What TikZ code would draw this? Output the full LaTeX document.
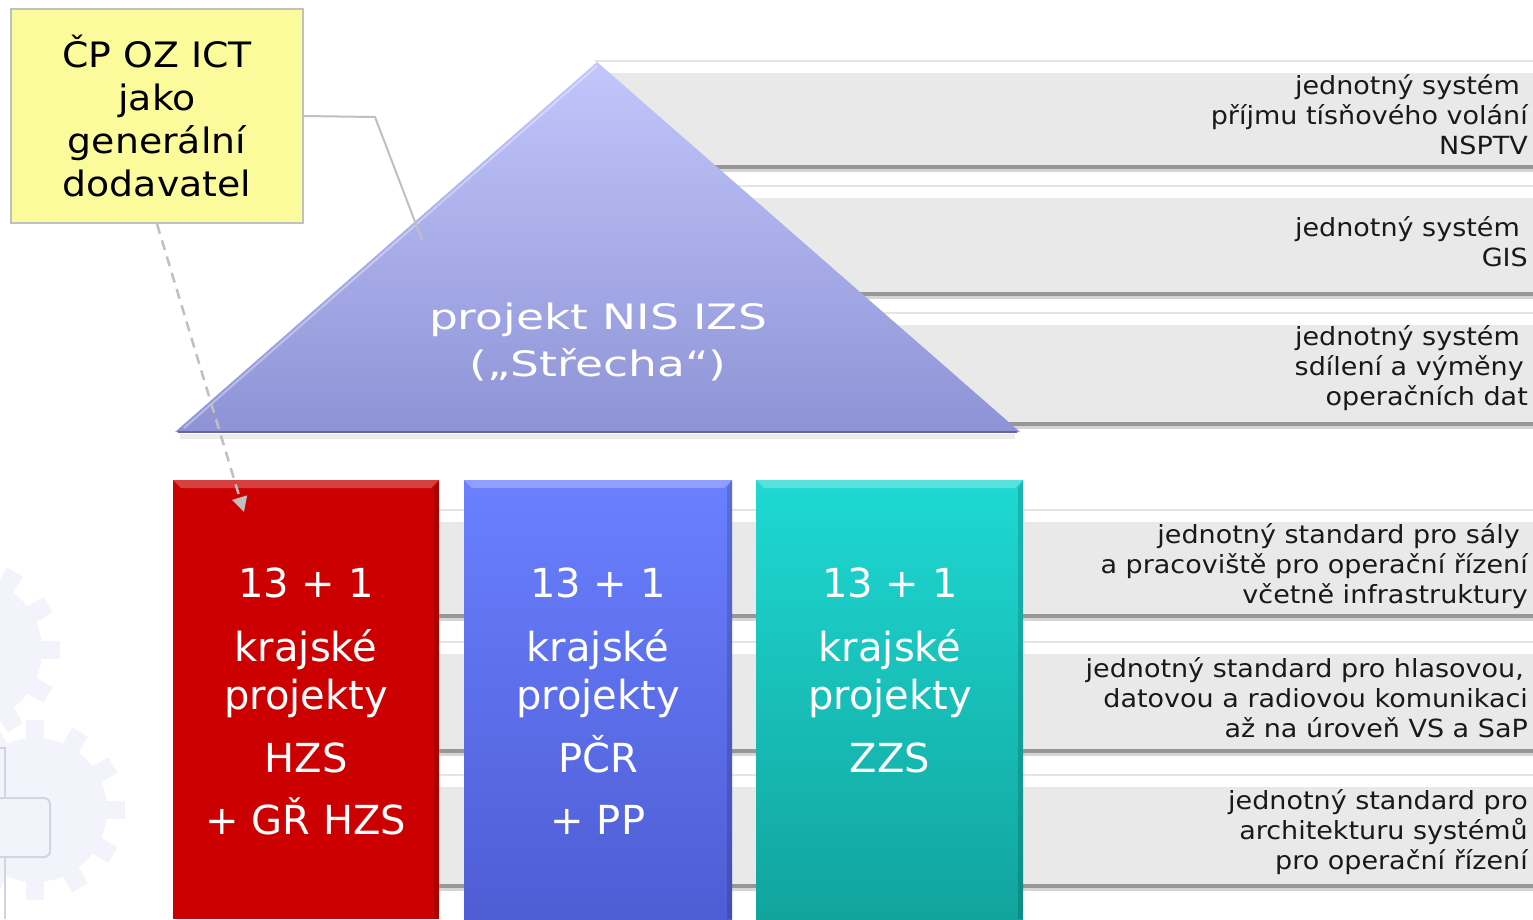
\documentclass[tikz,border=0pt]{standalone}
\usepackage{fontspec}
\setmainfont{DejaVu Sans}
\newfontfamily\widefont{DejaVu Sans}[FakeStretch=1.08]
\newfontfamily\rooffont{DejaVu Sans}[FakeStretch=1.30]
\usetikzlibrary{arrows.meta}

\definecolor{bandgray}{HTML}{E9E9E9}
\definecolor{bandline}{HTML}{E4E4E4}
\definecolor{bandshadow}{HTML}{979797}
\definecolor{roofTop}{HTML}{C2C6FB}
\definecolor{roofBot}{HTML}{8E93D6}
\definecolor{hzsred}{HTML}{CC0000}
\definecolor{pcrTop}{HTML}{6A80FF}
\definecolor{pcrBot}{HTML}{4E5DD4}
\definecolor{zzsTop}{HTML}{1FD9D3}
\definecolor{zzsBot}{HTML}{11A49D}
\definecolor{noteyellow}{HTML}{FBFB9C}
\definecolor{notegray}{HTML}{C0C0C0}
\definecolor{logofill}{HTML}{F3F4FB}
\definecolor{logoline}{HTML}{D2D5DE}

\begin{document}
\begin{tikzpicture}[x=1pt,y=-1pt,
    bandtext/.style={anchor=east,align=right,inner sep=0pt,text=black!90,
      font=\widefont\fontsize{25}{30}\selectfont},
    coltext/.style={anchor=north,align=center,inner sep=0pt,text=white,
      font=\fontsize{40}{48}\selectfont},
    callout/.style={draw=notegray,line width=2pt},
    dasharrow/.style={draw=notegray,line width=2.5pt,dash pattern=on 10pt off 7pt,
      -{Triangle[width=15pt,length=15pt]}}]
  \useasboundingbox[fill=white] (0,0) rectangle (1533,919);

  % faint logo in the corner
  \foreach \cx/\cy in {-30/650,35/810}{
    \fill[logofill] (\cx,\cy) circle (72);
    \foreach \a in {0,30,...,330}
      \fill[logofill,rotate around={\a:(\cx,\cy)}] (\cx-9,\cy-90) rectangle (\cx+9,\cy-60);
  }
  \draw[logoline,line width=2pt,rounded corners=6pt] (-20,798) rectangle (50,857);
  \draw[logoline,line width=2pt] (-5,748) -- (5,748) -- (5,798) (5,857) -- (5,919);

  % bands
  \foreach \t/\b/\l in {73/166/595,198/293/595,325/423/595,522/615/180,654/750/180,787/885/180}{
    \draw[bandline,line width=1.5pt] (\l,\t-12) -- (1533,\t-12);
    \fill[bandgray] (\l,\t) rectangle (1533,\b);
    \fill[bandshadow!40] (\l,\b) rectangle (1533,\b+6);
    \fill[bandshadow] (\l,\b-1) rectangle (1533,\b+2.5);
  }
  \node[bandtext] (nsptv) at (1528,115) {jednotný systém\kern8pt\\příjmu tísňového volání\\NSPTV};
  \node[bandtext] (gis) at (1528,242) {jednotný systém\kern8pt\\GIS};
  \node[bandtext] (data) at (1528,368) {jednotný systém\kern8pt\\sdílení a výměny\kern4pt\\operačních dat};
  \node[bandtext] (saly) at (1528,566) {jednotný standard pro sály\kern8pt\\a pracoviště pro operační řízení\\včetně infrastruktury};
  \node[bandtext] (komunikace) at (1528,698) {jednotný standard pro hlasovou,\kern4pt\\datovou a radiovou komunikaci\\až na úroveň VS a SaP};
  \node[bandtext] (architektura) at (1528,832) {jednotný standard pro\\architekturu systémů\\pro operační řízení};

  % roof
  \shade[top color=roofTop,bottom color=roofBot] (597,62) -- (1020,432) -- (175,432) -- cycle;
  \draw[white,opacity=.35,line width=2pt] (597,66) -- (184,428);
  \draw[roofBot!70!black,line width=2pt] (178,432) -- (1017,432);
  \fill[black,opacity=.08] (180,434) rectangle (1015,439);
  \node[text=white,align=center,font=\rooffont\fontsize{35}{47}\selectfont] (roof) at (598,342)
    {projekt NIS IZS\\(„Střecha“)};

  % columns
  \fill[hzsred] (173,480) rectangle (439,919);
  \shade[top color=pcrTop,bottom color=pcrBot] (464,480) rectangle (732,919);
  \shade[top color=zzsTop,bottom color=zzsBot] (756,480) rectangle (1023,919);
  \foreach \l/\r in {173/439,464/732,756/1023}{
    \fill[white,opacity=.25] (\l,480) -- (\r,480) -- (\r-8,488) -- (\l+8,488) -- cycle;
    \fill[black,opacity=.15] (\r,480) -- (\r,919) -- (\r-5,919) -- (\r-5,488) -- cycle;
  }
  \node[coltext] (hzs) at (306,568) {13 + 1\\[16pt]krajské\\projekty\\[15pt]HZS\\[14pt]+ GŘ HZS};
  \node[coltext] (pcr) at (598,568) {13 + 1\\[16pt]krajské\\projekty\\[15pt]PČR\\[14pt]+ PP};
  \node[coltext] (zzs) at (890,568) {13 + 1\\[16pt]krajské\\projekty\\[15pt]ZZS};

  % general supplier note
  \node[draw=notegray,line width=2pt,fill=noteyellow,minimum width=292pt,minimum height=214pt,
    align=center,font=\widefont\fontsize{35}{43}\selectfont] (ict) at (157,116)
    {ČP OZ ICT\\jako\\generální\\dodavatel};
  \coordinate (roofpt) at (422,240);
  \coordinate (hzstip) at (244,512);
  \draw[callout] (ict.east) -- (375,117) -- (roofpt);
  \draw[dasharrow] (ict.south) -- (hzstip);
\end{tikzpicture}
\end{document}
